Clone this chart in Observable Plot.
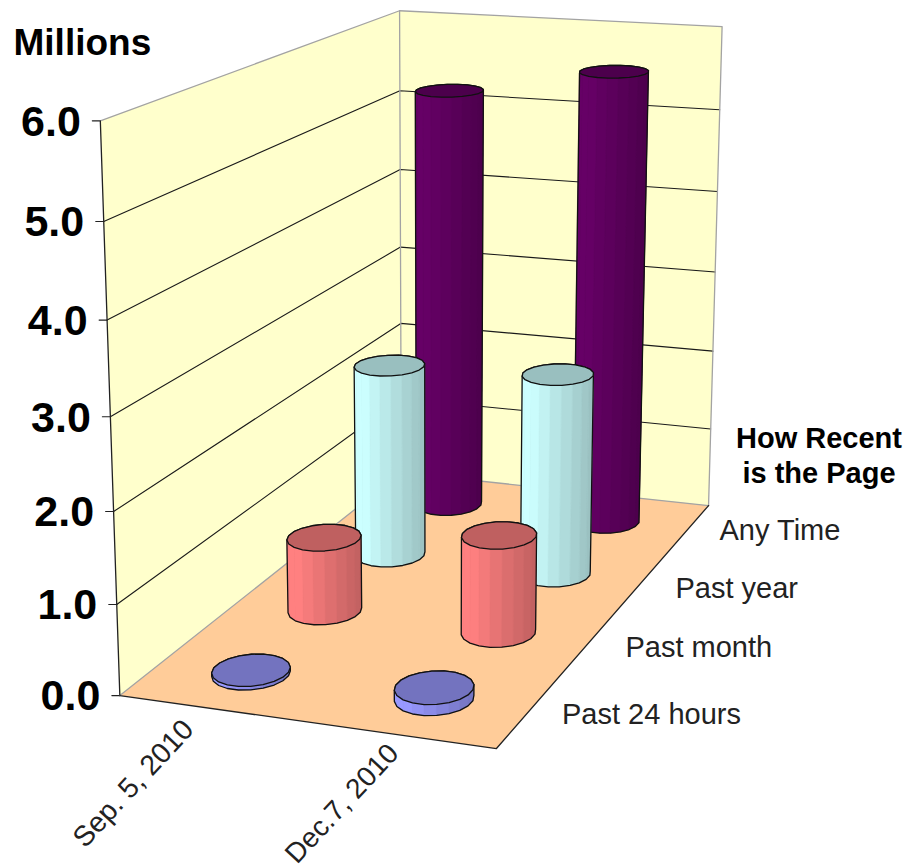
<!DOCTYPE html>
<html>
<head>
<meta charset="utf-8">
<style>html,body{margin:0;padding:0;background:#fff}svg{display:block;font-family:"Liberation Sans",Arial,sans-serif}</style>
<script src="https://cdn.jsdelivr.net/npm/d3@7"></script>
<script src="https://cdn.jsdelivr.net/npm/@observablehq/plot@0.6"></script>
</head>
<body>
<div id="chart"></div>
<script>
// ---- data (millions of pages) ----
const categories = ["Sep. 5, 2010", "Dec.7, 2010"];
const recency = ["Past 24 hours", "Past month", "Past year", "Any Time"];
const past24Hours = [0.04, 0.12];
const pastMonth = [0.86, 1.12];
const pastYear = [2.32, 2.4];
const anyTime = [5.22, 5.56];
const valueTicks = [0, 1, 2, 3, 4, 5, 6];
const seriesValues = [past24Hours, pastMonth, pastYear, anyTime];

// ---- styling ----
const wallColor = "#ffffcc", floorColor = "#ffcc99", edgeGrey = "#a3a3a3";
const lightColors = ["#9999ff", "#ff8080", "#ccffff", "#660066"];
const darkColors = ["#7373bf", "#bf6060", "#99bfbf", "#4c004c"];

// ---- camera: fitted to where the box corners sit in the picture ----
const anchors = [
  [0,0,0,119,694.5],[0,0,1,117,605],[0,0,2,114,511],[0,0,3,110,416],[0,0,4,106,320],[0,0,5,103,220],[0,0,6,99,121],
  [0,1,0,400,472],[0,1,1,400,398],[0,1,2,400,322.7],[0,1,3,400,246.7],[0,1,4,400,169],[0,1,5,400,90.7],[0,1,6,400,10],
  [1,1,0,708,505],[1,1,1,711,429],[1,1,2,713,350.7],[1,1,3,714,271],[1,1,4,717,191],[1,1,5,719,109.3],[1,1,6,721,26],
  [1,0,0,496,748],[1,0,0,496,748],[1,0,0,496,748]
];
function solve(A, b) {
  const n = b.length, M = A.map((r, i) => [...r, b[i]]);
  for (let c = 0; c < n; c++) {
    let p = c;
    for (let r = c + 1; r < n; r++) if (Math.abs(M[r][c]) > Math.abs(M[p][c])) p = r;
    [M[c], M[p]] = [M[p], M[c]];
    for (let r = 0; r < n; r++) if (r !== c) {
      const f = M[r][c] / M[c][c];
      for (let k = c; k <= n; k++) M[r][k] -= f * M[c][k];
    }
  }
  return M.map((r, i) => r[n] / r[i]);
}
const cam = (() => {
  const rows = [], rhs = [];
  for (const [X, Z, V, u0, v0] of anchors) {
    const Y = V / 6, u = u0 / 1000, v = v0 / 1000;
    rows.push([X, Y, Z, 1, 0, 0, 0, 0, -u * X, -u * Y, -u * Z]); rhs.push(u);
    rows.push([0, 0, 0, 0, X, Y, Z, 1, -v * X, -v * Y, -v * Z]); rhs.push(v);
  }
  const n = 11, A = d3.range(n).map(() => new Array(n).fill(0)), b = new Array(n).fill(0);
  rows.forEach((r, k) => {
    for (let i = 0; i < n; i++) {
      b[i] += r[i] * rhs[k];
      for (let j = 0; j < n; j++) A[i][j] += r[i] * r[j];
    }
  });
  return solve(A, b);
})();
// X: along the date axis 0..1, Z: depth 0..1, V: value in millions
function proj(X, Z, V) {
  const Y = V / 6, p = cam;
  const w = p[8] * X + p[9] * Y + p[10] * Z + 1;
  return {
    x: 1000 * (p[0] * X + p[1] * Y + p[2] * Z + p[3]) / w,
    y: 1000 * (p[4] * X + p[5] * Y + p[6] * Z + p[7]) / w
  };
}

const marks = [];
const poly = (pts, fill, stroke = "none", strokeWidth = 1) =>
  marks.push(Plot.line(pts, {x: "x", y: "y", fill, stroke, strokeWidth, curve: "linear-closed"}));
const seg = (pts, stroke, strokeWidth = 1.1) =>
  marks.push(Plot.line(pts, {x: "x", y: "y", stroke, strokeWidth}));

// walls and floor
poly([proj(0,0,0), proj(0,0,6), proj(0,1,6), proj(0,1,0)], wallColor);
poly([proj(0,1,0), proj(0,1,6), proj(1,1,6), proj(1,1,0)], wallColor);
poly([proj(0,0,0), proj(0,1,0), proj(1,1,0), proj(1,0,0)], floorColor);

// gridlines
for (const v of valueTicks) {
  if (v > 0 && v < 6) {
    seg([proj(0,0,v), proj(0,1,v), proj(1,1,v)], "#1a1a1a");
  }
  const a = proj(0,0,v);
  seg([a, {x: a.x - 8, y: a.y}], "#222");
}
// box edges
seg([proj(0,0,6), proj(0,1,6), proj(1,1,6), proj(1,1,0)], edgeGrey, 1.3);
seg([proj(0,1,6), proj(0,1,0)], edgeGrey, 1.3);
seg([proj(0,0,0), proj(0,1,0), proj(1,1,0)], edgeGrey, 1.3);
seg([proj(0,0,6), proj(0,0,0), proj(1,0,0), proj(1,1,0)], "#222", 1.3);

// cylinders, back row first
const xPos = categories.map((_, i) => (i + 0.5) / categories.length);
const zPos = recency.map((_, i) => (i + 0.5) / recency.length);
const rx = 0.0975, rz = 0.058, facets = 20;
function ring(xc, zc, v) {
  return d3.range(facets).map(i => {
    const a = 2 * Math.PI * (i + 0.5) / facets;
    return proj(xc + rx * Math.cos(a), zc + rz * Math.sin(a), v);
  });
}
for (let s = recency.length - 1; s >= 0; s--) {
  categories.forEach((_, c) => {
    const base = ring(xPos[c], zPos[s], 0), top = ring(xPos[c], zPos[s], seriesValues[s][c]);
    const shade = d3.interpolateRgb(lightColors[s], darkColors[s]);
    const hull = d3.polygonHull([...base, ...top].map(p => [p.x, p.y])).map(([x, y]) => ({x, y}));
    poly(hull, shade(0.5));
    const xs = base.map(p => p.x), minX = d3.min(xs), maxX = d3.max(xs);
    const L = xs.indexOf(minX);
    const R = xs.indexOf(maxX);
    // walk the lower arc of the base ring from left to right
    const fwd = (L + 1) % facets, back = (L - 1 + facets) % facets;
    const step = base[fwd].y > base[back].y ? 1 : -1;
    for (let i = L; i !== R; i = (i + step + facets) % facets) {
      const j = (i + step + facets) % facets;
      const t = ((base[i].x + base[j].x) / 2 - minX) / (maxX - minX);
      const col = shade(t < 0.15 ? 0 : (t - 0.15) / 0.85);
      poly([base[i], base[j], top[j], top[i]], col, col, 0.4);
    }
    poly(hull, "none", "#111", 1.3);
    poly(top, darkColors[s], "#111", 1.3);
  });
}

// text
const label = (text, x, y, fontSize, opts = {}) =>
  marks.push(Plot.text([text], {x: () => x, y: () => y, text: d => d, fontSize, fill: "#000", ...opts}));
for (const v of valueTicks) {
  const a = proj(0,0,v);
  label(v.toFixed(1), a.x - 19.5, a.y + 1, 43, {textAnchor: "end", fontWeight: "bold"});
}
label("Millions", 13, 43, 37, {textAnchor: "start", fontWeight: "bold"});
label("How Recent", 818.5, 438, 29, {fontWeight: "bold"});
label("is the Page", 818.5, 473, 29, {fontWeight: "bold"});
const depthAt = [[561.5, 714], [625, 647], [675, 588], [719, 530]];
recency.forEach((t, i) => {
  const [x, y] = depthAt[i];
  label(t, x, y, 29, {textAnchor: "start", fill: "#222"});
});
const dateAt = [[188, 724, 28.5], [393, 748, 28]];
categories.forEach((t, i) => {
  label(t, dateAt[i][0], dateAt[i][1], dateAt[i][2], {textAnchor: "end", rotate: -47, fill: "#222"});
});

const chart = Plot.plot({
  width: 908, height: 868,
  marginLeft: 0, marginRight: 0, marginTop: 0, marginBottom: 0,
  x: {domain: [0, 908], range: [0, 908], axis: null},
  y: {domain: [0, 868], range: [0, 868], axis: null},
  style: {background: "#fff", overflow: "hidden"},
  marks
});
document.getElementById("chart").appendChild(chart);
</script>
</body>
</html>
